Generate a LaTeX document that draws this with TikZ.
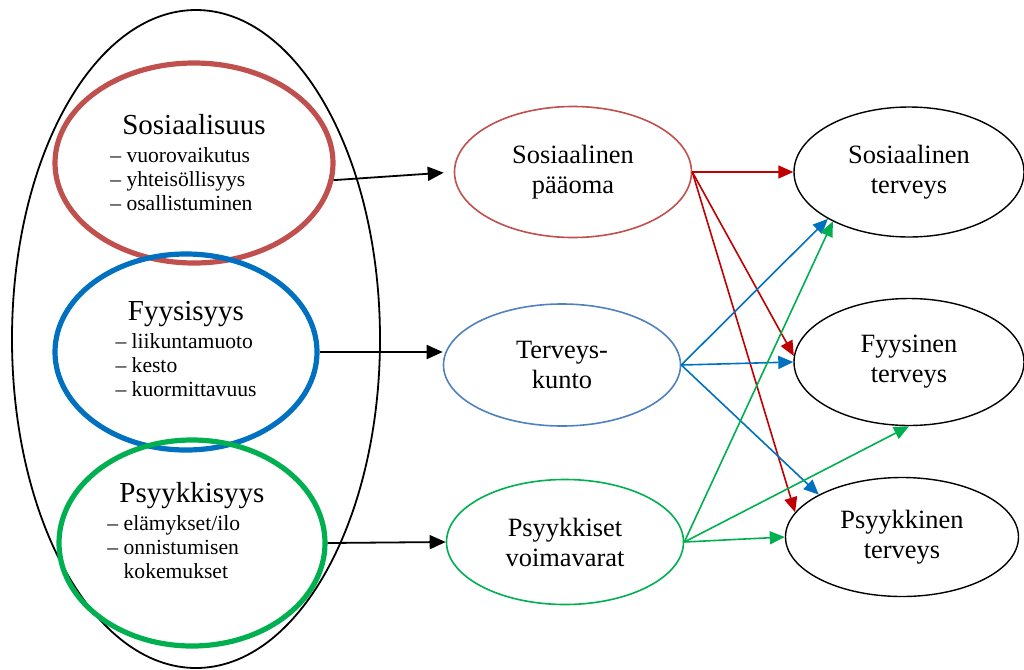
\documentclass[tikz,border=0pt]{standalone}
\usepackage{fontspec}
\setmainfont{Liberation Serif}
\usepackage{xcolor}
\usetikzlibrary{arrows.meta,shapes.geometric}

\definecolor{sosred}{HTML}{C0504D}
\definecolor{fyyblue}{HTML}{0070C0}
\definecolor{psygreen}{HTML}{00B050}
\definecolor{tkblue}{HTML}{4F81BD}
\definecolor{arrred}{HTML}{C00000}

\begin{document}
\begin{tikzpicture}[
  x=0.5pt, y=-0.5pt,
  font=\fontsize{13.2}{15}\selectfont,
  el/.style 2 args={ellipse, draw, inner sep=0pt, align=center,
            minimum width=#1, minimum height=#2},
  area/.style={line width=2.6pt, font=\fontsize{10.8}{12}\selectfont},
  mid/.style={line width=0.8pt},
  goal/.style={line width=0.7pt},
  blk/.style={-{Triangle[length=8pt,width=7pt]}, line width=0.9pt},
  col/.style={-{Triangle[length=7.5pt,width=6.5pt]}, line width=0.8pt, #1}
]
\useasboundingbox (0,0) rectangle (1024,670);

% left: the three areas inside one ellipse
\node[el={184pt}{329pt}, line width=0.9pt] (all) at (196,339) {};
\node[el={139pt}{100pt}, area, draw=sosred] (sos) at (194,163)
  {\begin{tabular}{@{}l@{}}
   \multicolumn{1}{c}{\fontsize{14.5}{16}\selectfont Sosiaalisuus}\\[2pt]
   – vuorovaikutus\\
   – yhteisöllisyys\\
   – osallistuminen\\[-3pt]
   \end{tabular}};
\node[el={131pt}{98pt}, area, draw=fyyblue] (fyy) at (186,352)
  {\begin{tabular}{@{}l@{}}
   \multicolumn{1}{c}{\fontsize{14.5}{16}\selectfont Fyysisyys}\\[2pt]
   – liikuntamuoto\\
   – kesto\\
   – kuormittavuus
   \end{tabular}};
\node[el={133pt}{103pt}, area, draw=psygreen] (psy) at (192,543)
  {\begin{tabular}{@{}l@{}}
   \multicolumn{1}{c}{\fontsize{14.5}{16}\selectfont Psyykkisyys}\\[2pt]
   – elämykset/ilo\\
   – onnistumisen\\
   \phantom{– }kokemukset\\[9pt]
   \end{tabular}};

% middle
\node[el={118.5pt}{65.5pt}, mid, draw=sosred] (ppo) at (573,172)
  {Sosiaalinen\\pääoma};
\node[el={118.5pt}{61pt}, mid, draw=tkblue] (tk) at (562,365)
  {Terveys-\\kunto};
\node[el={118.5pt}{62.5pt}, mid, draw=psygreen] (pv) at (565,542)
  {Psyykkiset\\voimavarat};

% right
\node[el={115pt}{65pt}, goal] (st) at (909,172) {Sosiaalinen\\terveys};
\node[el={115pt}{63.5pt}, goal] (ft) at (909,362) {Fyysinen\\terveys};
\node[el={116.5pt}{59.5pt}, goal] (pt) at (902,537) {Psyykkinen\\terveys};

\draw[blk, shorten >=5pt] (sos.-7) -- (ppo.west);
\draw[blk] (fyy.east) -- (fyy.east -| tk.west);
\draw[blk] (psy.east) -- (pv.west);

\draw[col=arrred] (ppo.east) -- (st.west);
\draw[col=arrred] (ppo.east) -- (ft.177);
\draw[col=arrred] (ppo.east) -- (pt.167);

\draw[col=fyyblue] (tk.east) -- (st.210);
\draw[col=fyyblue] (tk.east) -- (ft.west);
\draw[col=fyyblue] (tk.east) -- (pt.153);

\draw[col=psygreen] (pv.east) -- (st.213);
\draw[col=psygreen] (pv.east) -- (ft.south);
\draw[col=psygreen] (pv.east) -- (pt.west);
\end{tikzpicture}
\end{document}
